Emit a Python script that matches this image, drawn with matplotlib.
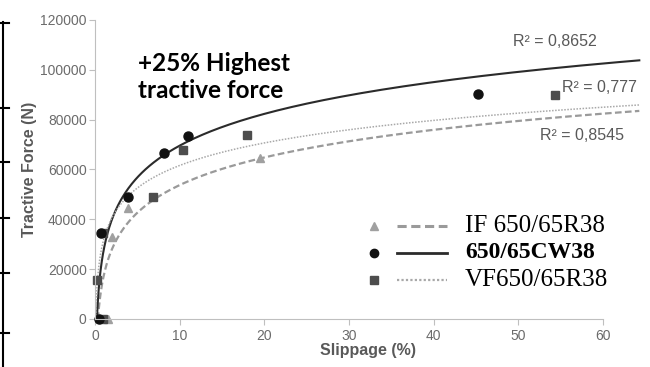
import numpy as np
import matplotlib.pyplot as plt
from matplotlib.lines import Line2D

# scatter points
if_x = [1.5, 2.0, 3.9, 19.5]
if_y = [0, 33000, 44500, 64500]

cw_x = [0.5, 0.7, 3.9, 8.1, 11.0, 45.2]
cw_y = [0, 34700, 49100, 66800, 73500, 90400]

vf_x = [1.0, 0.2, 1.0, 6.9, 10.4, 18.0, 54.3]
vf_y = [0, 15600, 34500, 48900, 67700, 73900, 89800]

# logarithmic trendlines y = a*ln(x) + b (coefficients)
if_ab = (16000, 16900)
cw_ab = (18400, 27200)
vf_ab = (13050, 31570)
trend_end = 64.3

r2_labels = ["R² = 0,8652", "R² = 0,777", "R² = 0,8545"]
legend_labels = ["IF 650/65R38", "650/65CW38", "VF650/65R38"]

grey = "#595959"

fig = plt.figure(figsize=(6.5, 3.67), dpi=100)
ax = fig.add_axes([95 / 650, 48 / 367, (641 - 95) / 650, (319 - 20) / 367])
ax.set_xlim(0, 64.5)
ax.set_ylim(0, 120000)


def trend(ab):
    a, b = ab
    x0 = np.exp(-b / a)
    xs = np.geomspace(x0, trend_end, 300)
    return xs, a * np.log(xs) + b


xs, ys = trend(if_ab)
ax.plot(xs, ys, color="#9a9a9a", lw=1.6, ls=(0, (3, 1.5)), clip_on=False)
xs, ys = trend(cw_ab)
ax.plot(xs, ys, color="#2b2b2b", lw=1.5, clip_on=False)
xs, ys = trend(vf_ab)
ax.plot(xs, ys, color="#a8a8a8", lw=1.1, ls=(0, (1, 1)), clip_on=False)

ax.plot(if_x, if_y, ls="none", marker="^", ms=6, color="#a0a0a0", clip_on=False)
ax.plot(vf_x, vf_y, ls="none", marker="s", ms=6, color="#4d4d4d", clip_on=False)
ax.plot(cw_x, cw_y, ls="none", marker="o", ms=6.5, color="#111111", clip_on=False)

for s in ["top", "right"]:
    ax.spines[s].set_visible(False)
for s in ["left", "bottom"]:
    ax.spines[s].set_color("#bfbfbf")
ax.spines["bottom"].set_bounds(0, 60)

ax.set_xticks(range(0, 61, 10))
ax.set_yticks(range(0, 120001, 20000))
ax.tick_params(colors="#bfbfbf", labelcolor="#6b6b6b", labelsize=10, length=4)
ax.tick_params(axis="y", pad=2)
for lab in ax.get_xticklabels() + ax.get_yticklabels():
    lab.set_family("Liberation Sans")

ax.set_xlabel("Slippage (%)", family="Liberation Sans", fontweight="bold",
              fontsize=11.5, color=grey, labelpad=0)
ax.set_ylabel("Tractive Force (N)", family="Liberation Sans", fontweight="bold",
              fontsize=11.5, color=grey, labelpad=2)

ax.text(5.1, 107000, "+25% Highest\ntractive force", family="Lato",
        fontweight="bold", fontsize=17.5, color="black", va="top", ha="left",
        linespacing=1.2)

fig.text(513 / 650, 1 - 42 / 367, r2_labels[0], family="Liberation Sans",
         fontsize=11.5, color=grey, va="center")
fig.text(562 / 650, 1 - 87 / 367, r2_labels[1], family="Liberation Sans",
         fontsize=11.5, color=grey, va="center")
fig.text(540 / 650, 1 - 136 / 367, r2_labels[2], family="Liberation Sans",
         fontsize=11.5, color=grey, va="center")

# hand-drawn legend
leg_y = [226, 253, 280]
leg_styles = [
    dict(color="#9a9a9a", lw=2.2, ls=(0, (3, 1.5))),
    dict(color="#2b2b2b", lw=2.0, ls="-"),
    dict(color="#a8a8a8", lw=1.6, ls=(0, (1, 1))),
]
leg_markers = [("^", "#a0a0a0"), ("o", "#111111"), ("s", "#4d4d4d")]
for y, st, (m, c), lab, w, fs in zip(leg_y, leg_styles, leg_markers, legend_labels,
                                     ["normal", "bold", "normal"], [18, 17, 18]):
    fy = 1 - y / 367
    fig.add_artist(Line2D([374 / 650], [fy], marker=m, color=c, ms=6, ls="none"))
    fig.add_artist(Line2D([397 / 650, 447 / 650], [fy, fy], **st))
    fig.text(465 / 650, fy, lab, family="Liberation Serif", fontsize=fs,
             fontweight=w, color="black", va="center")

# fragment of a table border at the left edge
fig.add_artist(Line2D([2.5 / 650, 2.5 / 650], [0, 1 - 22 / 367], color="black", lw=1.5))
for y in [23, 108, 162, 218, 273, 333]:
    fig.add_artist(Line2D([0, 9 / 650], [1 - y / 367, 1 - y / 367], color="black", lw=1.5))

fig.savefig("out.png", dpi=100)
